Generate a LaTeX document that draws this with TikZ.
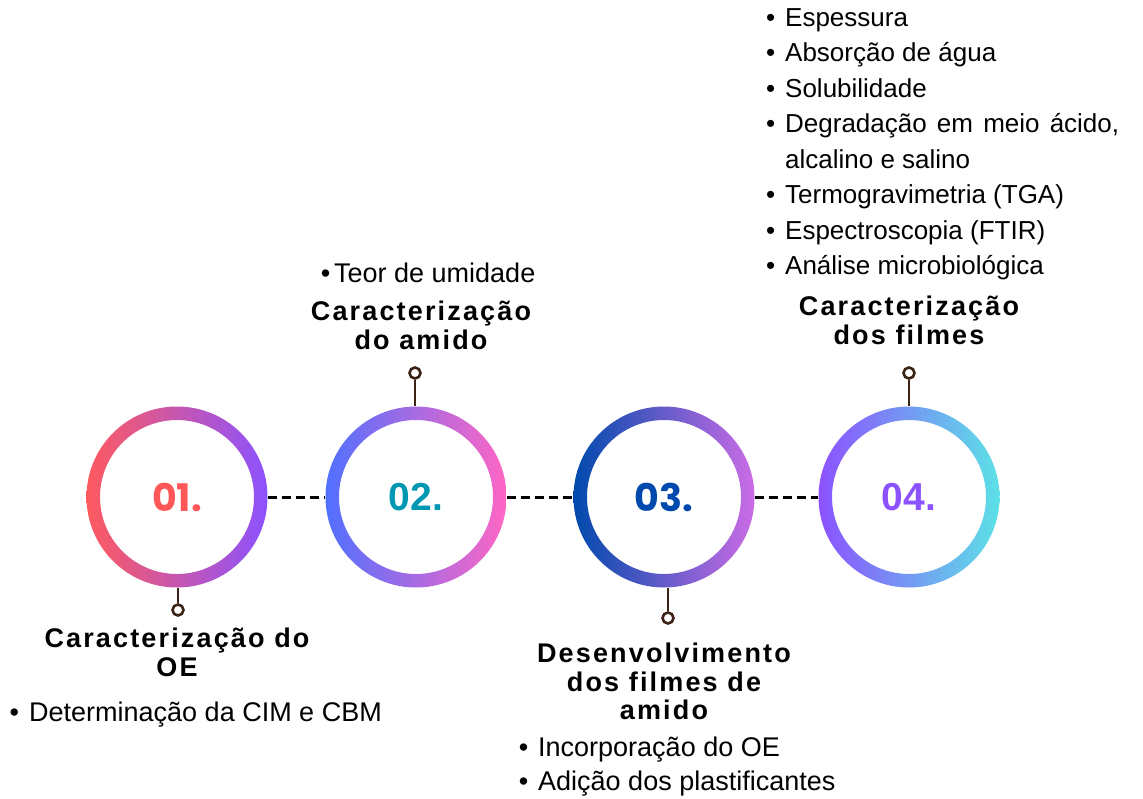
\documentclass[tikz,border=0pt]{standalone}
\usepackage{fontspec}
\setmainfont{Liberation Sans}
\newfontfamily\ttlfont{Liberation Sans}[LetterSpace=8]
\newfontfamily\popfont{Poppins}
\definecolor{pinc}{HTML}{3B2416}
\definecolor{gA}{HTML}{FF5A5F}
\definecolor{gB}{HTML}{8C52FF}
\definecolor{gC}{HTML}{5170FF}
\definecolor{gD}{HTML}{FF66C4}
\definecolor{gE}{HTML}{004AAD}
\definecolor{gF}{HTML}{CB6CE6}
\definecolor{gG}{HTML}{5CE1E6}
\definecolor{nA}{HTML}{FF5757}
\definecolor{nB}{HTML}{0097B2}
\definecolor{nC}{HTML}{004AAD}
\definecolor{nD}{HTML}{8C52FF}
\newcommand{\bul}[1][10pt]{\llap{\textbullet\hspace{#1}}}
\begin{document}
\begin{tikzpicture}[x=1pt,y=-1pt,
  ring/.style={circle, minimum size=181pt, inner sep=0pt},
  pinline/.style={draw=pinc, line width=2.2pt},
  pinhead/.style={circle, draw=pinc, fill=white, line width=2.6pt, minimum size=11pt, inner sep=0pt},
  conn/.style={draw=black, line width=3pt, dash pattern=on 9pt off 5pt},
  ttl/.style={anchor=base, font=\ttlfont\bfseries\fontsize{27}{28}\selectfont, inner sep=0pt},
  item/.style={anchor=base west, font=\fontsize{27}{34}\selectfont, inner sep=0pt},
  ritem/.style={anchor=base west, font=\fontsize{26}{34}\selectfont, inner sep=0pt},
  numA/.style={font=\popfont\bfseries\fontsize{38}{38}\selectfont},
  numB/.style={font=\bfseries\fontsize{39}{39}\selectfont},
]
\useasboundingbox[fill=white] (0,0) rectangle (1143,798);

% circles
\node[ring, numA, text=nA] (c1) at (177,497) {01.};
\node[ring, numB, text=nB] (c2) at (416,497) {02.};
\node[ring, numA, text=nC] (c3) at (664,497) {03.};
\node[ring, numB, text=nD] (c4) at (909,497) {04.};
\shade[even odd rule, left color=gA, right color=gB] (c1.center) circle[radius=90.5pt] (c1.center) circle[radius=77pt];
\shade[even odd rule, left color=gC, right color=gD] (c2.center) circle[radius=90.5pt] (c2.center) circle[radius=77pt];
\shade[even odd rule, left color=gE, right color=gF] (c3.center) circle[radius=90.5pt] (c3.center) circle[radius=77pt];
\shade[even odd rule, left color=gB, right color=gG] (c4.center) circle[radius=90.5pt] (c4.center) circle[radius=77pt];

% dashed connectors
\draw[conn] (c1.east) -- (c2.west);
\draw[conn] (c2.east) -- (c3.west);
\draw[conn] (c3.east) -- (c4.west);

% pins
\node[pinhead] (p1) at (178,610) {};
\node[pinhead] (p2) at (415,373) {};
\node[pinhead] (p3) at (668,618) {};
\node[pinhead] (p4) at (909,373) {};
\draw[pinline] (p1.north |- c1.south) -- (p1.north);
\draw[pinline] (p2.south) -- (p2.south |- c2.north);
\draw[pinline] (p3.north |- c3.south) -- (p3.north);
\draw[pinline] (p4.south) -- (p4.south |- c4.north);

% titles
\node[ttl] (t1a) at (177,647) {Caracterização do};
\node[ttl] (t1b) at (177,676) {OE};
\node[ttl] (t2a) at (421,320) {Caracterização};
\node[ttl] (t2b) at (421,349) {do amido};
\node[ttl] (t3a) at (664,662) {Desenvolvimento};
\node[ttl] (t3b) at (664,691) {dos filmes de};
\node[ttl] (t3c) at (664,719) {amido};
\node[ttl] (t4a) at (909,315) {Caracterização};
\node[ttl] (t4b) at (909,344) {dos filmes};

% items
\node[item] (i2) at (334,282) {\bul[4pt]Teor de umidade};
\node[item] (i1) at (29,721) {\bul Determinação da CIM e CBM};
\node[item] (i3a) at (538,756) {\bul Incorporação do OE};
\node[item] (i3b) at (538,790) {\bul Adição dos plastificantes};
\node[ritem] (r1) at (785,26) {\bul Espessura};
\node[ritem] (r2) at (785,61.5) {\bul Absorção de água};
\node[ritem] (r3) at (785,97) {\bul Solubilidade};
\node[ritem] (r4) at (785,132.5) {\bul\makebox[334pt][s]{Degradação em meio ácido,}};
\node[ritem] (r5) at (785,168) {alcalino e salino};
\node[ritem] (r6) at (785,203.5) {\bul Termogravimetria (TGA)};
\node[ritem] (r7) at (785,239) {\bul Espectroscopia (FTIR)};
\node[ritem] (r8) at (785,274.5) {\bul Análise microbiológica};
\end{tikzpicture}
\end{document}
